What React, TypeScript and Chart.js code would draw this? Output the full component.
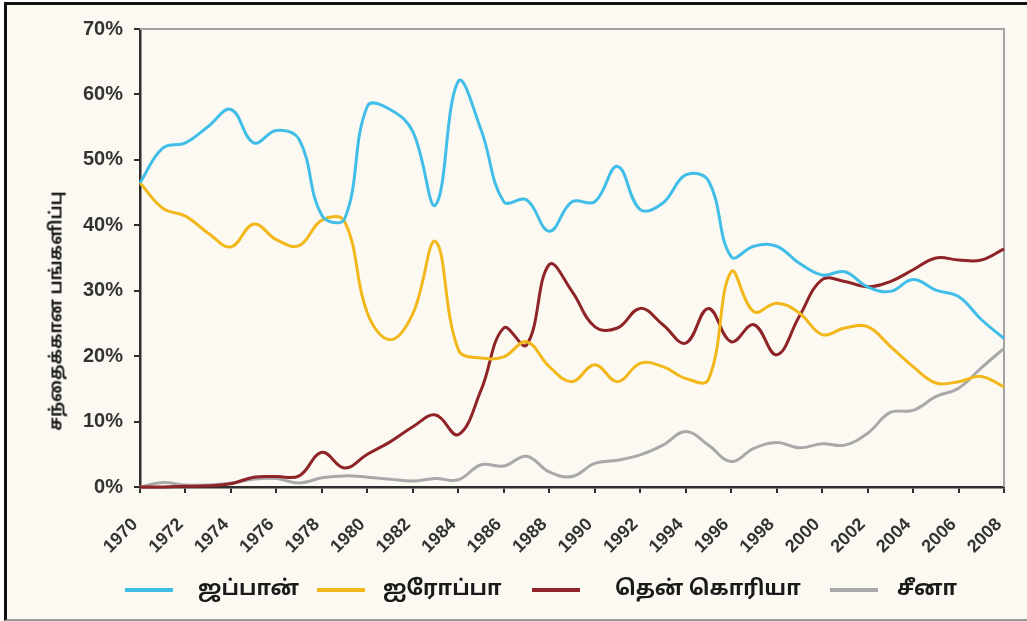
import React, { useEffect, useRef } from "react";
import { Chart, registerables } from "chart.js";

Chart.register(...registerables);

// ---- data ----
const YEARS = [
  1970, 1971, 1972, 1973, 1974, 1975, 1976, 1977, 1978, 1979,
  1980, 1981, 1982, 1983, 1984, 1985, 1986, 1987, 1988, 1989,
  1990, 1991, 1992, 1993, 1994, 1995, 1996, 1997, 1998, 1999,
  2000, 2001, 2002, 2003, 2004, 2005, 2006, 2007, 2008,
];
const JAPAN = [
  46.5, 51.8, 52.6, 55.1, 57.7, 52.6, 54.5, 53.1, 41.5, 41.0,
  58.2, 57.7, 54.3, 43.1, 62.0, 54.6, 43.6, 43.9, 39.1, 43.6,
  43.6, 49.0, 42.4, 43.4, 47.7, 46.8, 35.2, 36.8, 36.8, 34.2,
  32.4, 32.9, 30.6, 29.9, 31.7, 30.1, 29.1, 25.6, 22.7,
];
const EUROPE = [
  46.5, 42.6, 41.4, 38.8, 36.7, 40.2, 37.8, 36.9, 40.8, 40.6,
  26.6, 22.5, 26.5, 37.5, 21.0, 19.7, 19.9, 22.2, 18.4, 16.1,
  18.7, 16.1, 18.9, 18.4, 16.6, 16.4, 32.9, 26.8, 28.1, 26.6,
  23.3, 24.3, 24.5, 21.5, 18.4, 15.9, 16.1, 16.9, 15.3,
];
const KOREA = [
  0.0, 0.0, 0.1, 0.2, 0.5, 1.5, 1.6, 1.7, 5.3, 2.9,
  5.0, 6.9, 9.2, 11.0, 8.0, 14.8, 24.3, 21.7, 34.0, 29.9,
  24.5, 24.3, 27.3, 24.8, 22.0, 27.3, 22.2, 24.8, 20.2, 26.1,
  31.7, 31.4, 30.6, 31.4, 33.2, 35.0, 34.7, 34.7, 36.4,
];
const CHINA = [
  0.0, 0.7, 0.3, 0.3, 0.6, 1.2, 1.3, 0.6, 1.4, 1.7,
  1.5, 1.2, 0.9, 1.3, 1.1, 3.4, 3.2, 4.7, 2.3, 1.6,
  3.6, 4.1, 4.9, 6.4, 8.5, 6.4, 3.9, 5.9, 6.8, 6.0,
  6.6, 6.4, 8.2, 11.4, 11.7, 13.8, 15.1, 18.2, 21.2,
];
const SERIES_LABELS = ["ஜப்பான்", "ஐரோப்பா", "தென் கொரியா", "சீனா"];
const SERIES_COLORS = ["#41bee8", "#f2b81b", "#8e2328", "#a9a9a9"];
const Y_TITLE = "சந்தைக்கான பங்களிப்பு";
const Y_MIN = 0;
const Y_MAX = 70;
const Y_STEP = 10;
const X_MIN = 1970;
const X_MAX = 2008;
const X_STEP = 2;

// ---- layout ----
const W = 1027;
const H = 621;
const TAMIL_FONT = '"Noto Sans Tamil", "Lohit Tamil", "Noto Sans", "DejaVu Sans", sans-serif';
const TICK_FONT = '"Liberation Sans", Arial, sans-serif';
const LEGEND_LINE_X = [125, 317, 532, 830];
const LEGEND_TEXT_X = [198, 383, 615, 897];

const framePlugin = {
  id: "frameLines",
  beforeDatasetsDraw(chart: any) {
    const { ctx, chartArea } = chart;
    const { left, top, right, bottom } = chartArea;
    ctx.save();
    ctx.strokeStyle = "#a3a3a3";
    ctx.lineWidth = 2;
    ctx.beginPath();
    ctx.moveTo(left, top);
    ctx.lineTo(right, top);
    ctx.lineTo(right, bottom);
    ctx.stroke();
    ctx.restore();
  },
};

export default function App() {
  const canvasRef = useRef<HTMLCanvasElement | null>(null);

  useEffect(() => {
    const canvas = canvasRef.current;
    if (!canvas) return;
    const seriesValues = [JAPAN, EUROPE, KOREA, CHINA];
    const chart = new Chart(canvas, {
      type: "line",
      data: {
        datasets: seriesValues.map((vals, si) => ({
          label: SERIES_LABELS[si],
          data: YEARS.map((x, i) => ({ x, y: vals[i] })),
          borderColor: SERIES_COLORS[si],
          backgroundColor: SERIES_COLORS[si],
          borderWidth: 3,
          pointRadius: 0,
          tension: 0.4,
          fill: false,
          clip: 4,
        })),
      },
      options: {
        animation: false,
        responsive: false,
        maintainAspectRatio: false,
        layout: { padding: { left: 0, right: 23, top: 29, bottom: 0 } },
        plugins: {
          legend: { display: false },
          tooltip: { enabled: false },
          title: { display: false },
        },
        scales: {
          x: {
            type: "linear",
            min: X_MIN,
            max: X_MAX,
            afterFit: (scale: any) => {
              scale.height = 134;
              scale.paddingLeft = 0;
              scale.paddingRight = 0;
            },
            border: { display: true, color: "#2e2e2e", width: 2.5 },
            grid: {
              display: true,
              drawOnChartArea: false,
              drawTicks: true,
              tickLength: 6,
              color: "#2e2e2e",
              lineWidth: 2,
            },
            ticks: {
              stepSize: X_STEP,
              autoSkip: false,
              minRotation: 45,
              maxRotation: 45,
              padding: 21,
              labelOffset: -5,
              color: "#333333",
              font: { family: TICK_FONT, size: 18, weight: "bold" },
              callback: (v: any) => String(v),
            },
          },
          y: {
            type: "linear",
            min: Y_MIN,
            max: Y_MAX,
            afterFit: (scale: any) => {
              scale.width = 140;
            },
            border: { display: true, color: "#2e2e2e", width: 2.5 },
            grid: {
              display: true,
              drawOnChartArea: false,
              drawTicks: true,
              tickLength: 6,
              color: "#2e2e2e",
              lineWidth: 2,
            },
            ticks: {
              stepSize: Y_STEP,
              padding: 11,
              color: "#333333",
              font: { family: TICK_FONT, size: 20, weight: "bold" },
              callback: (v: any) => v + "%",
            },
          },
        },
      },
      plugins: [framePlugin],
    });
    return () => chart.destroy();
  }, []);

  return (
    <div
      style={{
        position: "fixed",
        left: 0,
        top: 0,
        width: W,
        height: H,
        background: "#ffffff",
        overflow: "hidden",
      }}
    >
      <div
        style={{
          position: "absolute",
          left: 4,
          top: 2,
          width: W - 4,
          height: H - 2,
          boxSizing: "border-box",
          background: "#fbf9f1",
          borderTop: "3px solid #111",
          borderLeft: "3px solid #111",
          borderBottom: "2px solid #9a9a9a",
        }}
      />
      <canvas
        ref={canvasRef}
        width={W}
        height={H}
        style={{ position: "absolute", left: 0, top: 0, width: W, height: H }}
      />
      <div
        style={{
          position: "absolute",
          left: 57,
          top: 311,
          transform: "translate(-50%, -50%) rotate(-90deg)",
          whiteSpace: "nowrap",
          fontFamily: TAMIL_FONT,
          fontWeight: "bold",
          fontSize: 17,
          color: "#1a1a1a",
        }}
      >
        {Y_TITLE}
      </div>
      {SERIES_LABELS.map((label, i) => (
        <React.Fragment key={label}>
          <div
            style={{
              position: "absolute",
              left: LEGEND_LINE_X[i],
              top: 588,
              width: 48,
              height: 4,
              background: SERIES_COLORS[i],
            }}
          />
          <div
            style={{
              position: "absolute",
              left: LEGEND_TEXT_X[i],
              top: 590,
              transform: "translateY(-50%)",
              whiteSpace: "nowrap",
              fontFamily: TAMIL_FONT,
              fontWeight: "bold",
              fontSize: 21,
              color: "#1a1a1a",
              lineHeight: 1,
            }}
          >
            {label}
          </div>
        </React.Fragment>
      ))}
    </div>
  );
}
